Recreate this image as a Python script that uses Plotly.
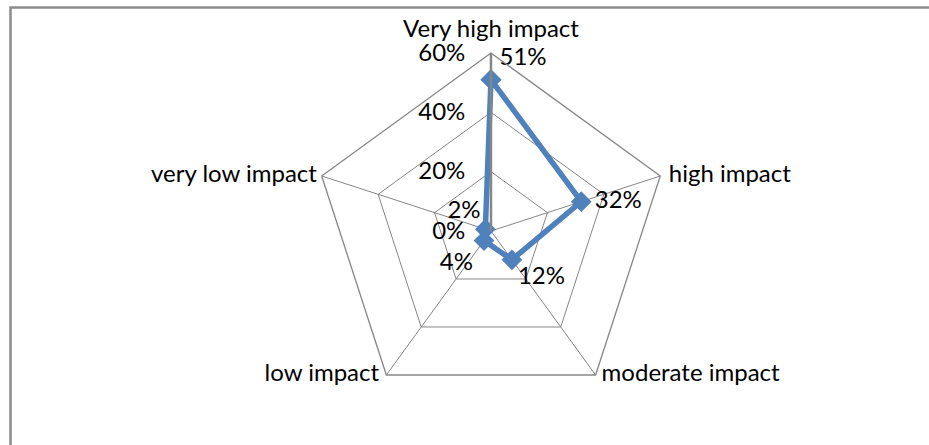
import plotly.graph_objects as go

categories = ["Very high impact", "high impact", "moderate impact", "low impact", "very low impact"]
values = [0.51, 0.32, 0.12, 0.04, 0.02]
labels = ["51%", "32%", "12%", "4%", "2%"]
label_pos = ["top right", "middle right", "bottom right", "bottom left", "top left"]
label_gap = [12, 20, 8, 16, 6]
category_pos = ["top center", "middle right", "middle right", "middle left", "middle left"]
category_gap = [14, 12, 8, 10, 6]
radial_max = 0.6
radial_ticks = [0, 0.2, 0.4, 0.6]
radial_ticktext = ["0%", "20%", "40%", "60%"]

FONT = "Lato, Carlito, Calibri, sans-serif"
FS = 24
BLUE = "#4F81BD"
GRID = "#868686"

fig = go.Figure()
fig.add_trace(go.Scatterpolar(
    r=values + values[:1],
    theta=categories + categories[:1],
    mode="lines+markers",
    line=dict(color=BLUE, width=5.5),
    marker=dict(symbol="diamond", size=16, color=BLUE),
    showlegend=False,
    hoverinfo="skip",
))
fig.add_trace(go.Scatterpolar(
    r=values,
    theta=categories,
    mode="markers+text",
    text=labels,
    textposition=label_pos,
    marker=dict(size=label_gap, opacity=0),
    textfont=dict(family=FONT, size=FS, color="black"),
    showlegend=False,
    hoverinfo="skip",
))
# category labels placed at the outer ring, beside each vertex
fig.add_trace(go.Scatterpolar(
    r=[radial_max] * len(categories),
    theta=categories,
    mode="markers+text",
    text=categories,
    textposition=category_pos,
    marker=dict(size=category_gap, opacity=0),
    textfont=dict(family=FONT, size=FS, color="black"),
    cliponaxis=False,
    showlegend=False,
    hoverinfo="skip",
))

fig.update_layout(
    width=929, height=445,
    margin=dict(l=0, r=0, t=0, b=0),
    paper_bgcolor="white",
    plot_bgcolor="white",
    font=dict(family=FONT, size=FS, color="black"),
    polar=dict(
        domain=dict(x=[0.3369, 0.7201], y=[0.0809, 0.8809]),
        bgcolor="white",
        gridshape="linear",
        angularaxis=dict(
            direction="clockwise",
            rotation=90,
            showline=True,
            linecolor=GRID,
            linewidth=1.3,
            gridcolor=GRID,
            gridwidth=1.3,
            ticks="",
            showticklabels=False,
        ),
        radialaxis=dict(
            range=[0, radial_max],
            tickvals=radial_ticks,
            ticktext=radial_ticktext,
            angle=90,
            side="counterclockwise",
            showline=True,
            linecolor=GRID,
            linewidth=2.5,
            gridcolor=GRID,
            gridwidth=1.3,
            ticks="outside",
            ticklen=16,
            tickcolor="rgba(0,0,0,0)",
            tickangle=90,
            tickfont=dict(family=FONT, size=FS, color="black"),
        ),
    ),
    shapes=[dict(
        type="rect", xref="paper", yref="paper",
        x0=10.5 / 929, x1=1.05, y0=-0.05, y1=1 - 7.5 / 445,
        line=dict(color="#8C8C8C", width=2.5),
        fillcolor="rgba(0,0,0,0)",
        layer="below",
    )],
)

fig.write_html("out.html")
